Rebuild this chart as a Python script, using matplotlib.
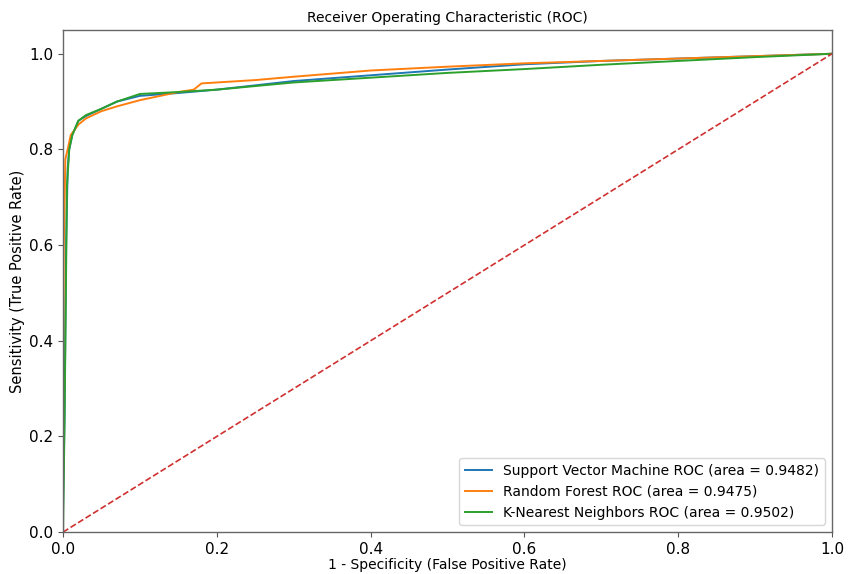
import matplotlib
matplotlib.use("Agg")
import matplotlib.pyplot as plt

# ROC points
svm_fpr = [0, 0, 0.002, 0.004, 0.006, 0.008, 0.012, 0.02, 0.03, 0.05, 0.07, 0.1, 0.15,
           0.2, 0.3, 0.4, 0.5, 0.6, 0.7, 0.8, 0.9, 1.0]
svm_tpr = [0, 0.05, 0.25, 0.6, 0.76, 0.8, 0.83, 0.86, 0.87, 0.885, 0.9, 0.912, 0.918,
           0.925, 0.943, 0.955, 0.967, 0.978, 0.985, 0.99, 0.995, 1.0]

rf_fpr = [0, 0, 0.001, 0.003, 0.006, 0.01, 0.02, 0.03, 0.05, 0.07, 0.1, 0.15, 0.17,
          0.18, 0.25, 0.3, 0.4, 0.5, 0.6, 0.7, 0.8, 0.9, 1.0]
rf_tpr = [0, 0.3, 0.6, 0.78, 0.8, 0.83, 0.852, 0.865, 0.88, 0.89, 0.903, 0.92, 0.925,
          0.938, 0.945, 0.952, 0.965, 0.973, 0.98, 0.985, 0.99, 0.995, 1.0]

knn_fpr = [0, 0.002, 0.004, 0.005, 0.008, 0.012, 0.02, 0.03, 0.05, 0.07, 0.1, 0.15,
           0.2, 0.3, 0.4, 0.5, 0.6, 0.7, 0.8, 0.9, 1.0]
knn_tpr = [0, 0.24, 0.55, 0.72, 0.8, 0.83, 0.86, 0.872, 0.885, 0.9, 0.916, 0.92,
           0.925, 0.94, 0.95, 0.96, 0.968, 0.977, 0.985, 0.993, 1.0]

models = ["Support Vector Machine", "Random Forest", "K-Nearest Neighbors"]
aucs = [0.9482, 0.9475, 0.9502]

fig = plt.figure(figsize=(8.52, 5.74), dpi=100)
ax = fig.add_axes([0.074, 0.073, 0.9025, 0.875])

curves = [(svm_fpr, svm_tpr), (rf_fpr, rf_tpr), (knn_fpr, knn_tpr)]
colors = ["tab:blue", "tab:orange", "tab:green"]
for (fpr, tpr), name, auc, c in zip(curves, models, aucs, colors):
    ax.plot(fpr, tpr, color=c, lw=1.4, label=f"{name} ROC (area = {auc:.4f})")

ax.plot([0, 1], [0, 1], color="#d03030", linestyle="--", lw=1.2)

ax.set_xlim(0, 1.0)
ax.set_ylim(0, 1.05)
ax.set_xticks([0, 0.2, 0.4, 0.6, 0.8, 1.0])
ax.set_yticks([0, 0.2, 0.4, 0.6, 0.8, 1.0])
ax.tick_params(labelsize=11, color="#555555")
for s in ax.spines.values():
    s.set_color("#666666")
    s.set_linewidth(1.0)

ax.set_xlabel("1 - Specificity (False Positive Rate)", fontsize=10, labelpad=1)
ax.set_ylabel("Sensitivity (True Positive Rate)", fontsize=10.5, labelpad=3)
ax.set_title("Receiver Operating Characteristic (ROC)", fontsize=10, pad=6)
ax.legend(loc="lower right", fontsize=10)

fig.savefig("out.png", dpi=100)
